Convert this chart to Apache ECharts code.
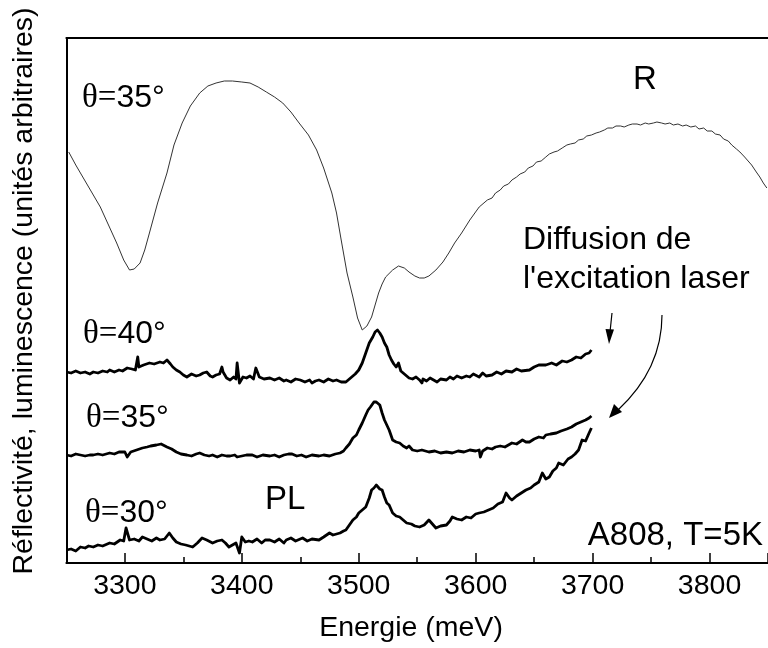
<!DOCTYPE html>
<html>
<head>
<meta charset="utf-8">
<script src="https://cdn.jsdelivr.net/npm/echarts@6/dist/echarts.min.js"></script>
<style>
html,body{margin:0;padding:0;background:#fff;}
#chart{width:768px;height:648px;}
</style>
</head>
<body>
<div id="chart"></div>
<script>
// x: energy (meV), y: intensity (arbitrary units)
const xTickLabels = ['3300','3400','3500','3600','3700','3800'];

const reflectivityR = [
[3252,411],[3258,398],[3264,386],[3272,370],[3279,356],[3286,338],[3293,320],[3299,303],[3304,293],[3308,294],
[3313,300],[3317,313],[3321,330],[3328,360],[3336,390],[3342,418],[3349,440],[3356,457],[3364,470],[3371,477],
[3378,480],[3385,482],[3392,482],[3400,481],[3407,480],[3414,476],[3421,471],[3428,466],[3435,460],[3442,451],
[3449,440],[3457,428],[3464,413],[3470,395],[3477,370],[3481,350],[3485,323],[3490,290],[3495,266],[3499,245],
[3503,233],[3507,237],[3511,246],[3514,258],[3517,270],[3520,279],[3523,286],[3529,293],[3534,297],[3539,295],
[3543,291],[3548,287],[3552,285],[3556,285],[3560,287],[3566,293],[3572,301],[3577,310],[3582,320],[3588,330],
[3595,343],[3603,356],[3610,363],[3614,365],[3617,370],[3621,373],[3624,377],[3628,379],[3631,383],[3635,386],
[3638,389],[3642,391],[3645,395],[3649,397],[3652,401],[3656,402],[3660,406],[3663,409],[3667,411],[3670,412],
[3674,415],[3678,418],[3681,419],[3685,420],[3688,423],[3692,424],[3695,427],[3699,428],[3703,430],[3706,431],
[3710,433],[3713,435],[3717,435],[3720,437],[3724,437],[3727,436],[3731,438],[3734,439],[3738,439],[3741,438],
[3745,440],[3748,439],[3752,440],[3755,441],[3759,440],[3762,439],[3766,440],[3769,438],[3773,439],[3777,437],
[3780,438],[3784,436],[3788,437],[3791,434],[3795,435],[3798,432],[3802,432],[3805,429],[3809,428],[3812,424],
[3816,422],[3819,418],[3823,414],[3826,411],[3830,406],[3833,402],[3836,398],[3840,391],[3843,386],[3846,380],[3849,375]
];

const pl40 = [
[3250,191],[3254,190],[3258,192],[3262,190],[3266,191],[3270,189],[3273,191],[3277,190],[3281,192],[3285,191],
[3287,193],[3291,191],[3295,193],[3298,192],[3302,195],[3306,194],[3309,193],[3311,206],[3312,196],[3316,198],
[3321,200],[3325,199],[3330,201],[3333,200],[3336,203],[3339,199],[3341,196],[3344,193],[3347,191],[3350,188],
[3353,186],[3357,189],[3361,187],[3364,188],[3367,190],[3370,191],[3373,187],[3375,186],[3378,188],[3381,189],
[3383,196],[3384,191],[3387,185],[3390,183],[3393,186],[3395,184],[3396,200],[3398,180],[3401,186],[3404,185],
[3407,187],[3410,184],[3412,195],[3415,186],[3419,184],[3424,185],[3428,183],[3432,185],[3436,182],[3438,183],
[3442,181],[3446,184],[3450,183],[3454,181],[3458,183],[3460,180],[3463,182],[3466,183],[3470,181],[3474,184],
[3478,182],[3481,183],[3485,181],[3489,181],[3492,184],[3494,186],[3497,189],[3500,193],[3503,200],[3506,210],
[3509,220],[3512,226],[3514,231],[3516,233],[3518,230],[3520,226],[3522,220],[3524,216],[3526,208],[3528,203],
[3530,199],[3532,196],[3534,200],[3536,192],[3538,190],[3541,187],[3543,185],[3546,184],[3549,186],[3552,183],
[3554,180],[3555,184],[3558,182],[3561,185],[3564,183],[3567,181],[3570,184],[3575,183],[3578,186],[3581,184],
[3584,187],[3588,185],[3592,187],[3595,186],[3598,189],[3603,186],[3606,190],[3609,187],[3614,188],[3618,191],
[3622,189],[3626,192],[3631,191],[3635,194],[3639,192],[3646,193],[3650,196],[3654,198],[3660,198],[3665,200],
[3669,198],[3674,202],[3678,201],[3682,203],[3686,206],[3690,205],[3694,209],[3697,210],[3699,213]
];

const pl35 = [
[3250,108],[3254,107],[3258,109],[3262,108],[3266,107],[3270,108],[3273,108],[3277,109],[3281,108],[3287,110],
[3291,109],[3295,111],[3300,111],[3302,106],[3305,111],[3310,113],[3315,115],[3319,116],[3322,117],[3327,118],
[3331,119],[3336,116],[3340,114],[3344,111],[3348,109],[3353,108],[3357,107],[3361,109],[3364,110],[3368,108],
[3372,107],[3375,108],[3379,106],[3383,108],[3387,107],[3390,107],[3394,108],[3396,106],[3400,107],[3404,108],
[3409,108],[3413,106],[3418,108],[3424,107],[3428,108],[3432,106],[3436,108],[3440,109],[3443,109],[3447,107],
[3451,108],[3455,106],[3460,108],[3466,107],[3470,108],[3475,107],[3480,109],[3484,110],[3487,112],[3489,115],
[3492,119],[3495,125],[3498,128],[3500,133],[3503,140],[3506,148],[3508,153],[3510,156],[3513,161],[3515,161],
[3518,158],[3520,150],[3522,143],[3524,138],[3526,133],[3529,123],[3532,121],[3535,120],[3538,117],[3541,115],
[3543,117],[3546,113],[3550,112],[3554,113],[3560,111],[3565,112],[3570,110],[3575,111],[3580,110],[3585,112],
[3590,111],[3595,113],[3600,112],[3603,113],[3604,106],[3606,112],[3610,115],[3614,114],[3617,116],[3621,117],
[3625,116],[3631,120],[3635,119],[3640,123],[3643,121],[3646,121],[3650,124],[3654,126],[3658,125],[3660,128],
[3664,129],[3669,130],[3673,132],[3678,134],[3682,136],[3686,139],[3690,141],[3694,143],[3697,145],[3699,147]
];

const pl30 = [
[3250,13],[3254,14],[3258,12],[3262,16],[3266,15],[3269,17],[3273,16],[3277,18],[3281,17],[3287,20],
[3291,19],[3296,23],[3299,22],[3301,35],[3304,23],[3308,24],[3312,22],[3315,26],[3319,24],[3323,22],
[3327,25],[3330,23],[3334,24],[3338,30],[3341,25],[3344,21],[3348,19],[3352,18],[3358,16],[3362,20],
[3366,25],[3370,23],[3375,20],[3379,22],[3383,23],[3386,20],[3389,16],[3392,18],[3395,20],[3398,10],
[3400,26],[3403,21],[3406,22],[3409,21],[3413,24],[3417,20],[3420,23],[3424,23],[3428,21],[3432,24],
[3436,20],[3438,23],[3442,25],[3446,22],[3452,25],[3456,22],[3460,24],[3466,23],[3470,26],[3475,30],
[3478,28],[3484,30],[3487,32],[3489,33],[3492,38],[3495,43],[3498,46],[3500,50],[3503,53],[3506,56],
[3509,65],[3511,73],[3513,75],[3515,78],[3518,74],[3520,73],[3522,66],[3524,60],[3526,58],[3529,50],
[3532,47],[3535,46],[3538,43],[3541,40],[3545,39],[3548,37],[3552,36],[3556,38],[3560,43],[3563,39],
[3566,35],[3570,37],[3575,38],[3578,42],[3580,46],[3584,44],[3588,43],[3592,46],[3596,45],[3600,49],
[3603,50],[3607,51],[3611,53],[3615,55],[3619,59],[3623,61],[3626,70],[3629,65],[3631,63],[3635,67],
[3639,70],[3643,73],[3647,75],[3650,78],[3654,81],[3657,90],[3660,84],[3663,86],[3666,92],[3669,95],
[3671,100],[3675,98],[3679,104],[3682,106],[3685,109],[3688,113],[3691,123],[3694,122],[3697,130],[3699,135]
];

const SANS = "'Liberation Sans', Arial, Helvetica, sans-serif";
const SERIF = "'Liberation Serif', 'Times New Roman', serif";

const chart = echarts.init(document.getElementById('chart'), null, {renderer: 'canvas'});

function thetaText(x, y, deg) {
  return {
    type: 'text', left: x, top: y,
    style: {
      text: '{s|θ=}{a|' + deg + '°}',
      rich: {
        s: {fontFamily: SERIF, fontSize: 33, fill: '#000'},
        a: {fontFamily: SANS, fontSize: 32, fill: '#000'}
      }
    }
  };
}

const lineBase = {type: 'line', showSymbol: false, symbol: 'none', animation: false, silent: true};

chart.setOption({
  animation: false,
  backgroundColor: '#fff',
  grid: {left: 66.4, right: -1.6, top: 38, bottom: 85},
  xAxis: [{
    type: 'value', min: 3250, max: 3850, splitNumber: 6,
    axisLine: {show: true, onZero: false, lineStyle: {color: '#000', width: 2}},
    axisTick: {show: true, inside: true, length: 10, lineStyle: {color: '#000', width: 1.5}},
    minorTick: {show: true, splitNumber: 2, length: 6, lineStyle: {color: '#000', width: 1.5}},
    axisLabel: {show: true, showMinLabel: false, showMaxLabel: false, margin: 9, color: '#000', fontSize: 28.5, fontFamily: SANS,
      formatter: function (v) { const s = String(v); return xTickLabels.indexOf(s) >= 0 ? s : ''; }},
    splitLine: {show: false}
  }, {
    type: 'value', position: 'top', min: 3250, max: 3850,
    axisLine: {show: true, onZero: false, lineStyle: {color: '#000', width: 2}},
    axisTick: {show: false}, axisLabel: {show: false}, splitLine: {show: false}
  }],
  yAxis: {
    type: 'value', min: 0, max: 525,
    axisLine: {show: true, onZero: false, lineStyle: {color: '#000', width: 2}},
    axisTick: {show: false}, axisLabel: {show: false}, splitLine: {show: false}
  },
  series: [
    Object.assign({}, lineBase, {name: 'R', data: reflectivityR, lineStyle: {color: '#333', width: 1}}),
    Object.assign({}, lineBase, {name: 'PL 40', data: pl40, lineStyle: {color: '#000', width: 2.8, join: 'round'}}),
    Object.assign({}, lineBase, {name: 'PL 35', data: pl35, lineStyle: {color: '#000', width: 2.8, join: 'round'}}),
    Object.assign({}, lineBase, {name: 'PL 30', data: pl30, lineStyle: {color: '#000', width: 2.8, join: 'round'}})
  ],
  graphic: [
    {type: 'text', x: 24, y: 291, rotation: Math.PI / 2, originX: 0, originY: 0,
     style: {text: 'Réflectivité, luminescence (unités arbitraires)', fontFamily: SANS, fontSize: 28.5, fill: '#000', align: 'center', verticalAlign: 'middle'}},
    {type: 'text', x: 411, y: 628,
     style: {text: 'Energie (meV)', fontFamily: SANS, fontSize: 28.5, fill: '#000', align: 'center', verticalAlign: 'middle'}},
    thetaText(82, 82, 35),
    thetaText(83, 318, 40),
    thetaText(86, 402, 35),
    thetaText(85, 497, 30),
    {type: 'text', x: 645, y: 80,
     style: {text: 'R', fontFamily: SANS, fontSize: 33, fill: '#000', align: 'center', verticalAlign: 'middle'}},
    {type: 'text', x: 523, y: 240,
     style: {text: 'Diffusion de', fontFamily: SANS, fontSize: 32, fill: '#000', align: 'left', verticalAlign: 'middle'}},
    {type: 'text', x: 523, y: 279,
     style: {text: "l'excitation laser", fontFamily: SANS, fontSize: 32, fill: '#000', align: 'left', verticalAlign: 'middle'}},
    {type: 'text', x: 265, y: 500,
     style: {text: 'PL', fontFamily: SANS, fontSize: 33, fill: '#000', align: 'left', verticalAlign: 'middle'}},
    {type: 'text', x: 763, y: 536,
     style: {text: 'A808, T=5K', fontFamily: SANS, fontSize: 33, fill: '#000', align: 'right', verticalAlign: 'middle'}},
    {type: 'line', shape: {x1: 612, y1: 313, x2: 610, y2: 332}, style: {stroke: '#000', lineWidth: 1.2}},
    {type: 'polygon', shape: {points: [[605.5, 329], [614, 329.5], [609, 344]]}, style: {fill: '#000'}},
    {type: 'bezierCurve', shape: {x1: 662, y1: 315, cpx1: 662, cpy1: 369, x2: 618, y2: 410}, style: {stroke: '#000', lineWidth: 1.2, fill: null}},
    {type: 'polygon', shape: {points: [[614, 404], [622, 412], [609, 418]]}, style: {fill: '#000'}}
  ]
});
</script>
</body>
</html>
